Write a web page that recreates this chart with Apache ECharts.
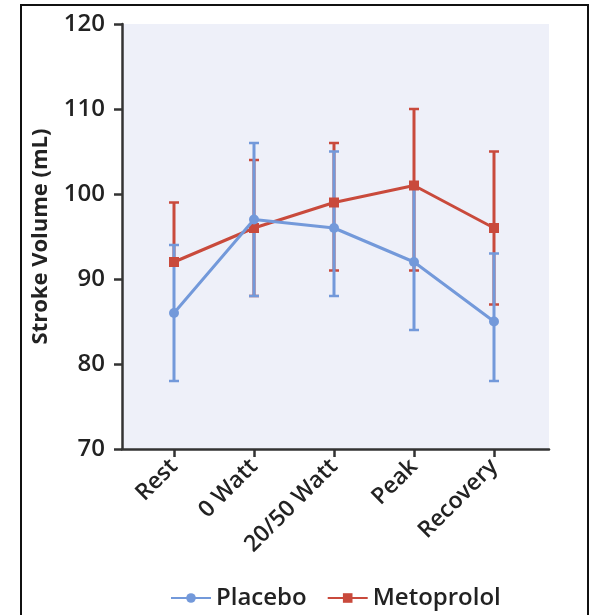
<!DOCTYPE html>
<html>
<head>
<meta charset="utf-8">
<script src="https://cdn.jsdelivr.net/npm/echarts@6/dist/echarts.min.js"></script>
<style>
  html, body { margin: 0; padding: 0; background: #fff; }
  #chart { width: 590px; height: 615px; }
</style>
</head>
<body>
<div id="chart"></div>
<script>
var categories = ['Rest', '0 Watt', '20/50 Watt', 'Peak', 'Recovery'];
var placeboMean = [86, 97, 96, 92, 85];
var placeboLow = [78, 88, 88, 84, 78];
var placeboHigh = [94, 106, 105, 101, 93];
var metoMean = [92, 96, 99, 101, 96];
var metoLow = [92, 88, 91, 91, 87];
var metoHigh = [99, 104, 106, 110, 105];
var yTicks = [70, 80, 90, 100, 110, 120];

var BLUE = '#7399da';
var RED = '#c94a3c';
var FONT = '"Open Sans", "DejaVu Sans", sans-serif';
var TEXT = '#222';

var myChart = echarts.init(document.getElementById('chart'));

function points(vals) {
    return vals.map(function (v, i) { return [i, v]; });
}
function bars(low, high) {
    return low.map(function (v, i) { return [i, v, high[i]]; });
}

// 误差线：竖线 + 上下端帽
function errorBar(color) {
    return function (params, api) {
        var lo = api.coord([api.value(0), api.value(1)]);
        var hi = api.coord([api.value(0), api.value(2)]);
        var half = 5;
        return {
            type: 'group',
            children: [
                { type: 'line', shape: { x1: lo[0], y1: lo[1], x2: hi[0], y2: hi[1] }, style: { stroke: color, lineWidth: 3 } },
                { type: 'line', shape: { x1: hi[0] - half, y1: hi[1], x2: hi[0] + half, y2: hi[1] }, style: { stroke: color, lineWidth: 2.5 } },
                { type: 'line', shape: { x1: lo[0] - half, y1: lo[1], x2: lo[0] + half, y2: lo[1] }, style: { stroke: color, lineWidth: 2.5 } }
            ]
        };
    };
}

var option = {
    animation: false,
    graphic: [{
        type: 'rect',
        shape: { x: 21, y: 5, width: 567, height: 640 },
        style: { fill: 'none', stroke: '#111', lineWidth: 2 },
        silent: true
    }],
    grid: {
        left: 122,
        right: 41,
        top: 24,
        bottom: 166,
        show: true,
        backgroundColor: '#eef0f9',
        borderWidth: 0
    },
    legend: {
        left: 165,
        top: 581,
        itemWidth: 40,
        itemHeight: 12,
        itemGap: 20,
        textStyle: { fontFamily: FONT, fontSize: 24, fontWeight: 600, color: TEXT },
        data: ['Placebo', 'Metoprolol']
    },
    xAxis: {
        type: 'value',
        min: -0.65,
        max: 4.6875,
        splitLine: { show: false },
        axisLine: { show: true, onZero: false, lineStyle: { color: '#333', width: 2.5 } },
        axisTick: {
            show: true,
            customValues: [0, 1, 2, 3, 4],
            length: 8,
            lineStyle: { color: '#333', width: 2.5 }
        },
        axisLabel: {
            customValues: [0, 1, 2, 3, 4],
            rotate: 45,
            margin: 14,
            fontFamily: FONT,
            fontSize: 23,
            fontWeight: 600,
            color: TEXT,
            formatter: function (v) { return categories[Math.round(v)]; }
        }
    },
    yAxis: {
        type: 'value',
        min: yTicks[0],
        max: yTicks[yTicks.length - 1],
        interval: 10,
        name: 'Stroke Volume (mL)',
        nameLocation: 'middle',
        nameGap: 70,
        nameTextStyle: { fontFamily: FONT, fontSize: 22, fontWeight: 'bold', color: TEXT },
        splitLine: { show: false },
        axisLine: { show: true, onZero: false, lineStyle: { color: '#333', width: 2.5 } },
        axisTick: { show: true, length: 8, lineStyle: { color: '#333', width: 2.5 } },
        axisLabel: { margin: 17, fontFamily: FONT, fontSize: 24, fontWeight: 600, color: TEXT }
    },
    series: [
        {
            type: 'custom',
            renderItem: errorBar(RED),
            encode: { x: 0, y: [1, 2] },
            data: bars(metoLow, metoHigh),
            z: 2
        },
        {
            type: 'custom',
            renderItem: errorBar(BLUE),
            encode: { x: 0, y: [1, 2] },
            data: bars(placeboLow, placeboHigh),
            z: 3
        },
        {
            name: 'Metoprolol',
            type: 'line',
            data: points(metoMean),
            symbol: 'rect',
            symbolSize: 10,
            color: RED,
            lineStyle: { color: RED, width: 3 },
            itemStyle: { color: RED },
            z: 4
        },
        {
            name: 'Placebo',
            type: 'line',
            data: points(placeboMean),
            symbol: 'circle',
            symbolSize: 10,
            color: BLUE,
            lineStyle: { color: BLUE, width: 3 },
            itemStyle: { color: BLUE },
            z: 5
        }
    ]
};
myChart.setOption(option);
</script>
</body>
</html>
